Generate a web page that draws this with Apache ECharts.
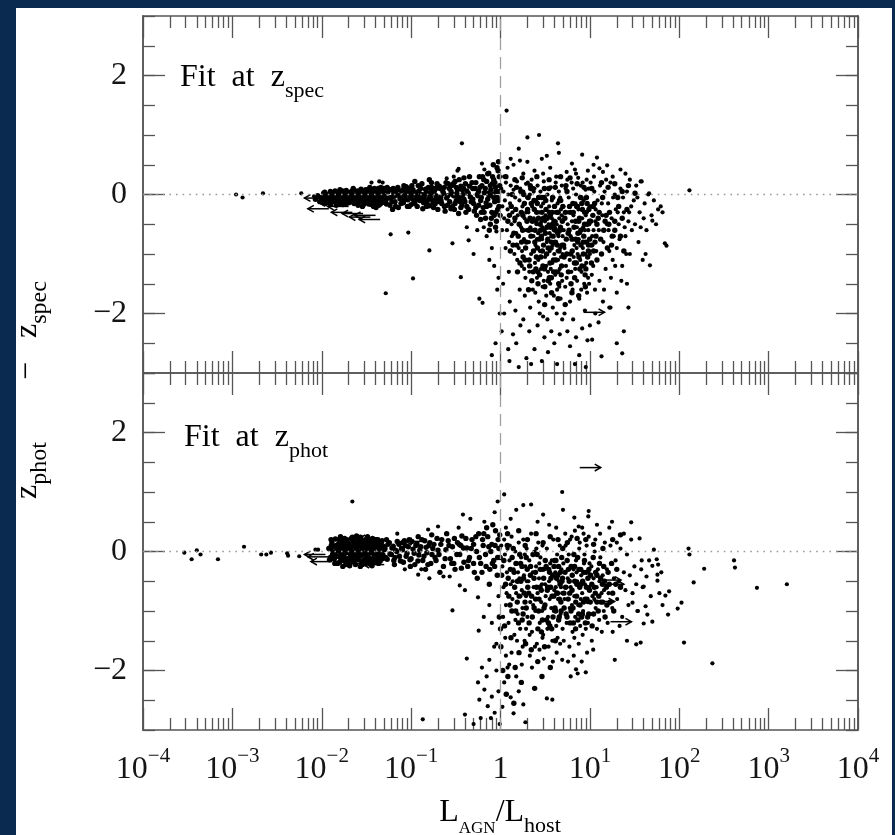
<!DOCTYPE html>
<html><head><meta charset="utf-8">
<script src="https://cdn.jsdelivr.net/npm/echarts@6/dist/echarts.min.js"></script>
<style>html,body{margin:0;padding:0;background:#0a2a50}#c{width:895px;height:835px}</style>
</head><body><div id="c"></div>
<script>
// ---------- tick labels ----------
const yTickLabels = [-2, 0, 2];
const xRange = [1e-4, 1e4];
const yRange = [-3, 3];

// ---------- upper panel (fit at z_spec) : [L_AGN/L_host, z_phot - z_spec] ----------
const upperEdge = [[.0011,0],[.0013,-.05],[.0022,.02],[.0059,.02],[.0082,-.03]];
const upperBand = [
[.0085,-.08],[.009,-.02],[.0095,-.12],[.01,-.05],[.0105,.02],[.011,-.15],[.0115,-.08],[.012,-.03],[.0125,.05],[.013,-.12],[.0135,-.06],[.014,0],[.0145,-.18],[.015,-.1],[.0155,.04],[.016,-.04],[.0165,-.13],[.017,.06],[.0175,-.08],[.018,-.01],[.0185,-.16],[.019,.03],[.0195,-.09],[.02,-.05],[.0105,-.1],[.0125,-.17],[.014,-.09],[.016,.08],[.0118,0],[.0132,.03],[.0148,-.04],[.0162,-.1],[.0178,.02],[.0192,-.13],[.0155,-.16],[.0112,-.04],[.0098,-.06],[.0172,-.05],[.0188,.07],[.0128,-.08],
[.021,-.1],[.022,0],[.023,-.15],[.024,-.04],[.025,.06],[.026,-.12],[.027,-.07],[.028,.02],[.029,-.18],[.03,-.03],[.031,.08],[.032,-.11],[.033,-.05],[.034,.03],[.035,-.14],[.036,-.08],[.037,0],[.038,-.2],[.039,-.06],[.04,.05],[.041,-.12],[.042,-.02],[.043,.1],[.044,-.09],[.045,-.16],[.046,.02],[.047,-.05],[.048,-.13],[.049,.07],[.05,-.03],[.0215,.05],[.0235,-.08],[.0255,-.18],[.0275,.09],[.0295,-.1],[.0315,0],[.0335,-.16],[.0355,.05],[.0375,-.1],[.0395,.02],[.0415,-.07],[.0435,-.18],[.0455,.06],[.0475,-.1],[.0225,-.06],[.0265,.03],[.0305,-.08],[.0345,-.02],[.0385,-.13],[.0425,.04],
[.052,-.1],[.055,.04],[.058,-.18],[.06,-.05],[.063,.1],[.066,-.12],[.069,0],[.072,-.22],[.075,-.07],[.078,.06],[.082,-.14],[.085,-.02],[.088,.13],[.092,-.09],[.095,-.2],[.098,.02],[.1,-.06],[.105,.08],[.11,-.15],[.115,-.03],[.12,.15],[.125,-.1],[.13,0],[.135,-.24],[.14,-.06],[.145,.09],[.15,-.13],[.155,.02],[.16,-.19],[.165,-.05],[.17,.12],[.175,-.1],[.18,.03],[.185,-.16],[.19,-.02],[.195,.18],[.2,-.08],[.054,.12],[.062,-.25],[.07,.08],[.08,-.04],[.09,.05],[.1,-.17],[.108,-.01],[.118,-.08],[.128,.1],[.138,-.14],[.148,.04],[.158,-.08],[.168,.06],[.178,-.22],[.188,.1],[.198,-.12],[.065,-.03],[.083,.15],
[.21,.1],[.22,-.15],[.23,.02],[.24,-.28],[.25,-.06],[.26,.18],[.27,-.12],[.28,.05],[.29,-.2],[.3,-.02],[.31,.22],[.32,-.1],[.33,.08],[.34,-.32],[.35,-.05],[.36,.14],[.37,-.18],[.38,0],[.39,.28],[.4,-.12],[.42,.06],[.44,-.25],[.46,-.04],[.48,.2],[.5,-.15],[.52,.1],[.54,-.35],[.56,-.02],[.58,.3],[.6,-.1],[.62,.15],[.64,-.22],[.66,.03],[.68,-.4],[.7,.22],[.72,-.08],[.74,.36],[.76,-.18],[.78,.08],[.8,-.3],[.82,0],[.84,.25],[.86,-.12],[.88,.12],[.9,-.45],[.92,-.05],[.94,.4],[.96,-.2],[.98,.15],[.215,-.04],[.235,.12],[.255,-.18],[.285,.15],[.305,-.25],[.325,.02],[.355,-.12],[.385,.1],[.41,-.3],[.45,.14],[.49,-.08],[.53,-.22],[.57,.05],[.61,-.3],[.65,.25],[.69,-.14],[.73,.02],[.77,-.5],[.81,.18],[.85,-.35],[.89,.05],[.93,-.25],[.97,.3]
];
const upperBandExtra = [
[.0102,-.13],[.0108,.04],[.0114,-.07],[.0121,-.14],[.0127,0],[.0134,-.1],[.0141,.06],[.0147,-.02],[.0153,-.11],[.0159,.01],[.0166,-.07],[.0173,-.17],[.0181,.05],[.0187,-.06],[.0194,0],[.0201,-.14],[.0208,.03],[.0218,-.12],[.0228,.07],[.0238,-.02],[.0248,-.14],[.0258,0],[.0268,-.1],[.0278,-.03],[.0288,.05],[.0298,-.15],[.0308,.03],[.0318,-.06],[.0328,.08],[.0338,-.12],[.0348,0],[.0358,-.17],[.0368,.06],[.0378,-.05],[.0388,.1],[.0398,-.15],[.0408,-.02],[.0418,.08],[.0428,-.1],[.0438,0],[.0448,-.05],[.0458,.12],[.0468,-.14],[.0478,.03],[.0488,-.08],[.0498,.1],[.0225,.1],[.0285,-.2],[.0345,.12],[.0405,-.22],
[.051,.07],[.053,-.16],[.056,-.06],[.059,.08],[.061,-.12],[.064,.02],[.067,-.2],[.071,.12],[.074,-.02],[.077,-.15],[.081,.08],[.084,-.09],[.087,0],[.091,-.2],[.094,.1],[.097,-.05],[.102,.15],[.107,-.1],[.112,.03],[.117,-.2],[.122,.06],[.127,-.05],[.132,.18],[.137,-.12],[.143,0],[.149,-.2],[.156,.12],[.162,-.02],[.169,.2],[.176,-.14],[.183,.07],[.191,-.06],[.199,-.25],[.207,.14],[.216,-.1],[.226,.06],[.236,-.2],[.246,.2],[.257,-.02],[.268,.1],[.279,-.24],[.29,0],[.297,.18],[.11,.22],[.16,.25],
[.31,-.15],[.32,.12],[.335,-.05],[.345,.25],[.36,-.22],[.375,.08],[.39,-.08],[.405,.18],[.42,-.2],[.435,.02],[.45,.3],[.47,-.12],[.49,.1],[.51,-.28],[.53,.2],[.55,0],[.57,-.18],[.59,.12],[.61,-.05],[.63,.3],[.655,-.3],[.675,.1],[.7,-.2],[.72,.35],[.745,-.02],[.77,.15],[.79,-.4],[.815,.3],[.84,-.05],[.865,.2],[.89,-.3],[.915,.45],[.94,-.1],[.965,.05],[.99,-.35],[.6,-.42],[.75,-.6],[.88,-.55],[.95,.55],[.83,.5]
];
const upperSparse = [
[.036,.2],[.044,.22],[.048,.2],[.33,.4],[.34,.43],[.62,.52],[.66,.42],[.37,.86],[.3,.3],[.25,.27],
[.052,-1.66],[.059,-.67],[.093,-.64],[.105,-1.41],[.16,-.94],[.36,-1.39],[.29,-.82],[.5,-1.0],[.44,-.77],[.63,-1.82],[.58,-1.75],[.42,-.55],[.7,-.7],[.8,-.9],[.85,-1.2],[.9,-.62],[.95,-1.4],[.75,-1.1],[.65,-.55],[.55,-.6],[.98,-2.0],[.92,-1.6],[.8,-2.7],[1.26,-2.8],[.88,-2.5]
];
const upperCloud = [
[1.17,1.41],[1.3,.6],[1.6,.77],[1.65,.57],[2.0,.96],[2.7,1.0],[3.3,.65],[4.4,.86],[4.5,.7],[8.2,.67],[6.3,.52],[15.6,.49],[12.8,.44],[37,.22],[1.2,.45],[1.4,.5],[2.0,.55],[2.4,.4],[2.9,.6],[3.6,.45],[5.5,.38],[6.8,.42],[9.5,.4],[11,.5],[12,.62],[14,.38],[18,.3],[22,.42],[25,.35],[28,.25],[1.8,.35],[3.0,.35],[4.2,.3],[1.1,.3],[7.0,.35],
[1.02,.1],[1.05,-.2],[1.08,.05],[1.1,-.4],[1.12,-.1],[1.15,.2],[1.18,-.6],[1.2,-.25],[1.22,0],[1.25,-.8],[1.28,-.15],[1.3,.15],[1.33,-.5],[1.36,-.3],[1.4,.08],[1.43,-1.0],[1.46,-.05],[1.5,-.65],[1.53,.22],[1.56,-.35],[1.6,-.9],[1.63,-.1],[1.66,.1],[1.7,-.55],[1.73,-1.2],[1.76,-.2],[1.8,.05],[1.83,-.75],[1.86,-.4],[1.9,-1.4],[1.93,.18],[1.96,-.6],[1.99,-.05],[1.04,-.6],[1.14,-.9],[1.24,-1.3],[1.34,-.7],[1.44,-.45],[1.54,-1.1],[1.64,-1.6],[1.74,-.95],[1.84,-1.25],[1.94,-.3],[1.07,-1.5],[1.27,-1.8],[1.47,-1.95],[1.67,-2.2],[1.87,-1.7],
[1.03,-2.3],[1.1,-2.0],[1.22,-2.6],[1.38,-2.35],[1.5,-2.5],[1.6,-2.9],[1.8,-2.1],[1.95,-2.75],
[2.02,.2],[2.05,-.3],[2.08,-.8],[2.1,-1.3],[2.13,0],[2.16,-.55],[2.2,-1.0],[2.23,.25],[2.26,-.2],[2.3,-1.6],[2.33,-.7],[2.36,-.4],[2.4,.1],[2.43,-1.15],[2.46,-.85],[2.5,-.1],[2.53,-.5],[2.56,-1.4],[2.6,.15],[2.64,-.65],[2.68,-1.8],[2.72,-.3],[2.76,-.95],[2.8,.05],[2.84,-1.25],[2.88,-.45],[2.92,-.75],[2.96,-1.55],[3.0,-.15],[3.05,.22],[3.1,-.6],[3.15,-1.05],[3.2,-.35],[3.25,-1.7],[3.3,-.8],[3.35,0],[3.4,-1.3],[3.45,-.5],[3.5,-.2],[3.55,-.95],[3.6,-1.5],[3.65,.12],[3.7,-.7],[3.75,-.4],[3.8,-1.15],[3.85,-1.9],[3.9,-.05],[3.95,-.6],[4.0,-1.0],[4.05,-.3],[4.1,-1.35],[4.15,.2],[4.2,-.8],[4.25,-.5],[4.3,-1.6],[4.35,-.15],[4.4,-1.1],[4.45,-.7],[4.5,.05],[4.55,-.4],[4.6,-1.25],[4.65,-.9],[4.7,-1.75],[4.75,-.25],[4.8,-.6],[4.85,.15],[4.9,-1.45],[4.95,-1.0],[2.15,-1.9],[2.45,-1.65],[2.75,-2.0],[3.05,-1.45],[3.35,-2.1],[3.65,-1.25],[3.95,-1.7],[4.25,-2.0],[4.55,-1.55],[4.85,-.35],[2.25,-.6],[2.55,-.75],[2.85,-.2],[3.15,-.45],[3.45,-.9],[3.75,-.1],[4.05,-.55],[4.35,-.95],[4.65,-.05],[4.95,-.7],[2.35,.05],[2.65,-1.1],[2.95,-.55],[3.25,-1.2],[3.55,-.65],[3.85,-.85],[4.15,-.45],[4.45,-1.3],[4.75,-1.05],
[2.1,-2.3],[2.4,-2.6],[2.6,-2.2],[2.9,-2.8],[3.1,-2.4],[3.4,-2.65],[3.7,-2.3],[4.0,-2.5],[4.3,-2.85],[4.6,-2.35],[4.9,-2.1],[2.2,-2.85],[3.0,-2.05],
[5.05,-.2],[5.2,-.9],[5.35,.1],[5.5,-1.4],[5.65,-.5],[5.8,-.05],[5.95,-1.1],[6.1,-.7],[6.25,.2],[6.4,-1.6],[6.55,-.35],[6.7,-.85],[6.85,-1.25],[7.0,0],[7.15,-.55],[7.3,-1.0],[7.45,-.25],[7.6,-1.75],[7.75,-.65],[7.9,.15],[8.05,-1.3],[8.2,-.4],[8.35,-.9],[8.5,-.1],[8.65,-1.5],[8.8,-.6],[8.95,.08],[9.1,-1.15],[9.25,-.3],[9.4,-.8],[9.55,-1.4],[9.7,.1],[9.85,-.5],[10,-1.0],[10.3,-.2],[10.6,-.7],[10.9,-1.2],[11.2,.05],[11.5,-.45],[11.8,-.95],[5.1,-.6],[5.4,-1.2],[5.7,-.3],[6.0,-1.8],[6.3,-.45],[6.6,-1.05],[6.9,-.15],[7.2,-1.45],[7.5,-.75],[7.8,-1.1],[8.1,-.05],[8.4,-.55],[8.7,-1.2],[9.0,-.35],[9.3,-1.65],[9.6,-.6],[9.9,-.2],[10.5,-1.35],[11.0,-.6],[11.6,-.25],[5.3,-1.55],[6.2,-1.3],[7.1,-.9],[8.0,-1.6],[8.9,-1.0],[9.8,-1.5],[10.7,-.85],[11.4,-1.6],[5.6,.25],[6.5,.1],[7.4,.28],[8.3,.2],[9.2,.25],[10.2,.2],[11.1,.3],
[5.2,-2.0],[5.6,-2.3],[6.0,-2.55],[6.5,-2.1],[7.0,-2.4],[7.6,-2.7],[8.2,-2.25],[8.8,-1.95],[9.4,-2.45],[10,-2.2],[10.6,-2.44],[11.5,-2.0],[6.8,-2.85],[9.0,-2.9],
[12.2,-.1],[12.6,-.6],[13,.15],[13.4,-1.0],[13.8,-.35],[14.2,-.8],[14.6,.05],[15,-1.25],[15.5,-.5],[16,-.15],[16.5,-.95],[17,.2],[17.5,-.4],[18,-1.1],[18.5,-.7],[19,0],[19.5,-.25],[20,-.9],[21,-.5],[22,.1],[23,-1.2],[24,-.3],[25,-.7],[26,.05],[27,-.45],[28,-1.0],[29,-.2],[12.8,-1.45],[13.6,-.15],[14.4,-1.6],[15.2,.25],[16.2,-.6],[17.2,-1.4],[18.2,-.05],[19.2,-1.2],[20.5,-.3],[21.5,-.75],[22.5,-1.45],[23.5,-.05],[24.5,-.55],[25.5,-1.0],[27.5,-.3],[29.5,-.6],[14,-1.8],[17,-1.9],[20,-1.65],[26,-1.5],
[12.5,-2.15],[16.5,-1.9],[20,-2.5],[23,-2.67],[13.5,-2.72],[24,-2.3],[27,-1.9],
[31,-.1],[32,-.5],[33,.15],[35,-.8],[36,-.3],[38,.22],[39,-1.1],[41,-.15],[43,-.6],[45,0],[47,-1.19],[49,-.35],[52,-.1],[55,-.5],[58,-.25],[34,-.05],[40,-.4],[46,.02],[50,-.44],[42,-1.0],[37,-.55],
[72,-.86],[69,-.82],[130,.07],[65,-.3],[62,-.2]
];
const upperCloudExtra = [
[1.21,-.45],[1.29,-.95],[1.35,0],[1.41,-.65],[1.48,-.25],[1.55,-1.3],[1.62,-.5],[1.69,.05],[1.72,-.8],[1.79,-1.05],[1.85,-.15],[1.91,-.9],[1.98,-.45],[2.04,-.05],[2.09,-1.1],[2.14,-.4],[2.19,-.7],[2.24,-1.45],[2.29,.1],[2.34,-.95],[2.39,-.25],[2.44,-.6],[2.49,-1.25],[2.54,-.3],[2.59,-.9],[2.63,-1.5],[2.67,-.05],[2.71,-.75],[2.78,-.5],[2.83,-1.05],[2.87,-.7],[2.91,-.3],[2.98,-1.2],[3.03,-.85],[3.08,-.05],[3.13,-1.55],[3.18,-.65],[3.23,-.25],[3.28,-1.0],[3.33,-.4],[3.38,-.75],[3.43,-1.45],[3.48,.1],[3.53,-.3],[3.58,-1.15],[3.63,-.55],[3.68,-.9],[3.73,-1.65],[3.78,-.3],[3.83,-.05],[3.88,-.7],[3.93,-1.3],[3.98,-.45],[4.08,-.8],[4.18,-1.1],[4.28,-.3],[4.38,-.65],[4.48,-1.5],[4.58,-.1],[4.68,-.55],[4.78,-1.35],[4.88,-.85],[4.98,-.2],[5.15,-1.05],[5.25,-.4],[5.45,-.75],[5.55,.05],[5.75,-1.3],[5.85,-.6],[6.05,-.3],[6.15,-1.5],[6.35,-.95],[6.45,-.15],[6.65,-.55],[6.75,-1.4],[6.95,-.75],[7.05,-1.15],[7.25,-.2],[7.35,-.65],[7.55,-1.05],[7.65,-.4],[7.85,-.05],[7.95,-.85],[8.15,-1.2],[8.25,-.25],[8.45,-1.0],[8.55,-.7],[8.75,-.3],[8.85,-1.35],[9.05,-.8],[9.15,-.05],[9.35,-.5],[9.45,-1.05],[9.65,-.85],[9.75,-.25],[9.95,-.75],[10.2,-.45],[10.4,-1.15],[10.8,-.35],[11.0,-.95],[11.3,-.15],[11.7,-.7],[12.0,-1.1],[12.4,-.4],[13.2,-.75],[13.9,-.05],[14.8,-.45],[15.7,-.9],[16.6,-.3],[17.8,-.7],[19.0,-.45],[20.5,-.05],[22,-.7],[24,-.95],[26,-.25],[1.26,-.35],[1.52,-.85],[1.78,-.35],[2.06,-1.6],[2.21,-.15],[2.62,-1.3],[3.12,-1.85],[3.71,-1.4],[4.42,-1.75],[5.3,-1.85],[6.3,-1.65],[7.5,-1.7],[8.9,-1.55],
[1.15,.3],[1.45,.25],[1.75,.28],[2.15,.15],[2.55,.3],[3.1,.1],[3.5,.25],[4.1,.12],[4.7,.3],[5.4,.15],[6.0,.28],[7.2,.18],[8.6,.12],[10.5,.1],[13.5,.2],[16,.12],[19,.18],[23,.05],[27,.15],[32,.02],
[1.32,-.2],[1.38,-.85],[1.45,-.4],[1.51,.12],[1.58,-.7],[1.65,-1.15],[1.71,-.3],[1.77,-.6],[1.82,0],[1.88,-1.1],[1.95,-.8],[2.01,-.25],[2.07,-.6],[2.12,-1.2],[2.18,.1],[2.27,-.45],[2.32,-1.3],[2.37,-.1],[2.42,-.8],[2.48,-.45],[2.52,-1.05],[2.58,-.15],[2.66,-.4],[2.74,-1.35],[2.81,-.6],[2.89,-.05],[2.94,-.95],[3.02,-.4],[3.11,-1.25],[3.21,-.1],[3.31,-.55],[3.41,-.9],[3.52,-1.4],[3.61,-.35],[3.72,-.8],[3.82,-.5],[3.92,-1.1],[4.02,-.2],[4.12,-.6],[4.22,-1.3],[4.32,-.85],[4.42,-.3],[4.52,-.95],[4.62,-.6],[4.72,-.1],[4.82,-1.2],[4.92,-.45],[5.08,-.85],[5.32,-.3],[5.52,-1.0],[5.72,-.65],[5.92,-.2],[6.12,-1.0],[6.32,-.75],[6.52,-.3],[6.72,-1.15],[6.92,-.45],[7.12,-.2],[7.32,-.8],[7.52,-.45],[7.72,-1.25],[7.92,-.6],[8.12,-.15],[8.42,-.8],[8.72,-.5],[9.02,-1.25],[9.32,-.15],[9.62,-.95],[9.92,-.45],[10.4,-.85],[10.9,-.2],[11.4,-.8],[12,-.5],[12.7,-.3],[13.5,-1.0],[14.3,-.6],[15.2,-.35],[16.3,-.5],[17.5,-.85],[19,-.6],[21,-.2],[23,-.4]
];
const upperArrowsLeft = [[.011,-.06],[.012,-.24],[.016,-.14],[.022,-.3],[.029,-.32],[.035,-.38],[.045,-.42],[.04,-.35],[.02,-.2]];
const upperArrowsRight = [[8.5,-1.98]];

// ---------- lower panel (fit at z_phot) ----------
const lowerEdge = [[.00029,-.02],[.00035,-.13],[.0004,.02],[.00044,-.05],[.00069,-.13],[.00135,.08],[.0021,-.05],[.0024,-.05],[.0027,-.02],[.0041,-.03],[.0042,-.07],[.0056,-.08],[.0091,.03],[.013,.02],[.022,.84]];
const lowerBlob = [
[.012,.05],[.0125,-.1],[.013,.15],[.0135,-.02],[.014,-.2],[.0145,.1],[.015,-.08],[.0155,.2],[.016,0],[.0165,-.15],[.017,.08],[.0175,-.05],[.018,.22],[.0185,-.22],[.019,.03],[.0195,-.12],[.02,.14],[.021,-.04],[.022,.24],[.023,-.18],[.024,.06],[.025,-.09],[.026,.17],[.027,-.25],[.028,0],[.029,.11],[.03,-.14],[.031,.2],[.032,-.06],[.033,.04],[.034,-.2],[.035,.13],[.036,-.02],[.037,.22],[.038,-.11],[.039,.07],[.04,-.18],[.042,.1],[.044,-.05],[.046,.16],[.048,-.12],[.05,.03],[.0128,.1],[.0138,-.13],[.0148,.02],[.0158,-.18],[.0168,.17],[.0178,-.1],[.0188,.12],[.0198,-.02],[.0215,.08],[.0235,-.13],[.0255,.2],[.0275,-.07],[.0295,-.2],[.0315,.07],[.0335,-.1],[.0355,.18],[.0375,-.03],[.0395,.15],[.0415,-.14],[.0435,.05],[.0455,-.08],[.0475,.1],[.0162,.25],[.0205,-.24],[.0245,.26],[.0285,-.22],[.0325,.25],[.0365,-.24],[.0405,.2],[.0142,.21],[.0172,-.25],[.0222,-.15],[.0262,-.02],[.0302,.13],[.0342,-.16],[.0382,0],[.0132,-.05],[.0152,.12],[.0182,-.03],[.0212,.02],[.0232,.1],[.0272,.09],[.0312,-.1],[.0352,.04],[.0392,-.08],[.0432,-.2],
[.0122,-.14],[.0127,.2],[.0133,.08],[.0139,-.06],[.0144,0],[.0151,-.2],[.0156,.06],[.0161,-.1],[.0167,.12],[.0171,0],[.0176,.18],[.0181,-.15],[.0186,.05],[.0191,.2],[.0197,-.18],[.0203,.07],[.0209,-.1],[.0214,.22],[.0219,-.06],[.0226,.16],[.0231,-.01],[.0238,-.22],[.0243,.13],[.0251,.02],[.0258,-.14],[.0264,.1],[.0271,.24],[.0279,-.16],[.0287,.05],[.0293,.18],[.0301,-.04],[.0309,-.2],[.0316,.14],[.0323,0],[.0331,.2],[.0338,-.12],[.0346,.08],[.0354,-.22],[.0361,.15],[.0369,.03],[.0377,-.15],[.0386,.2],[.0394,-.05],[.0403,.1],[.0412,-.1],[.0421,.2],[.0431,-.04],[.0441,.12],[.0451,-.16],[.0462,0],[.0473,.18],[.0484,-.06],[.0495,.08],[.0165,-.05],[.0195,.1],[.0245,-.07],[.0285,.14],[.0335,-.02],[.0385,.11],[.0445,.06]
];
const lowerBand = [
[.052,-.1],[.055,.12],[.058,-.04],[.061,.06],[.064,-.15],[.067,.02],[.07,.17],[.074,-.08],[.078,.05],[.082,-.18],[.086,.1],[.09,-.03],[.095,.2],[.1,-.12],[.105,.04],[.11,-.22],[.116,.13],[.122,-.06],[.128,.08],[.135,-.15],[.142,.18],[.15,-.02],[.158,.1],[.166,-.2],[.175,.05],[.185,-.1],[.195,.22],[.205,-.05],[.215,.12],[.23,-.25],[.245,.03],[.26,.18],[.275,-.12],[.29,.08],[.31,-.3],[.33,.15],[.35,-.05],[.37,.26],[.39,-.18],[.42,.06],[.45,-.1],[.48,.2],[.51,-.35],[.54,0],[.57,.3],[.6,-.2],[.64,.1],[.68,-.05],[.72,.25],[.76,-.3],[.8,.12],[.84,-.15],[.88,.35],[.92,-.4],[.96,.05],[.053,.2],[.065,-.22],[.08,.15],[.098,-.25],[.12,.25],[.145,-.3],[.17,.28],[.21,-.35],[.25,.3],[.3,-.2],[.36,.1],[.43,-.25],[.5,.12],[.62,-.35],[.7,.4],[.78,0],[.86,-.25],[.94,.2],[.99,-.1],[.75,-.55],[.82,.45],[.55,-.45],[.65,.3],
[.051,.05],[.054,-.13],[.057,.15],[.06,-.05],[.063,.09],[.066,-.1],[.069,0],[.073,.12],[.076,-.16],[.08,.03],[.084,.18],[.088,-.08],[.093,.08],[.097,-.14],[.102,.17],[.108,-.03],[.113,.1],[.119,-.16],[.125,.02],[.132,.2],[.139,-.08],[.147,.07],[.154,-.22],[.162,.15],[.171,-.05],[.18,.12],[.19,-.15],[.2,.02],[.22,.2],[.24,-.12],[.265,.1],[.285,-.2],[.305,.22],[.325,-.05],[.345,.12],[.365,-.28],[.385,.06],[.41,.22],[.44,-.15],[.47,.05],[.5,-.2],[.53,.25],[.58,-.1],[.63,.2],[.69,-.25],[.74,.08],[.81,-.2],[.87,.1],[.93,-.1],[.98,.28]
];
const lowerSparse = [
[.07,.3],[.155,.37],[.2,.42],[.34,.4],[.38,.62],[.46,.55],[.66,.5],[.86,.66],[.93,.84],[.0085,.03],
[.12,-.39],[.23,-.42],[.27,-.42],[.35,-.57],[.29,-.99],[.56,-.77],[.57,-1.33],[.42,-1.8],[.16,-.45],[.4,-.65],[.75,-.9],[.8,-1.2],[.9,-1.55],[.65,-1.1],[.95,-.75],[.13,-.3],[.085,-.3],
[.4,-2.74],[.58,-2.49],[.56,-2.2],[.7,-2.1],[.66,-2.32],[.75,-1.82],[.8,-2.44],[.86,-2.71],[1.05,-2.61],[1.4,-2.72],[1.8,-2.57],[3.3,-2.47],[3.8,-2.49],[.135,-2.82],[1.9,-2.87],[.62,-1.95],[.72,-2.6],[.9,-2.0],[.95,-2.35],[1.1,-2.2],[1.2,-1.95],[1.3,-2.45],[1.5,-2.1],[1.6,-2.35],[.5,-2.9],[.6,-2.8],[.98,-2.9],[.85,-1.6],[1.15,-1.75],[.78,-2.8]
];
const lowerCloud = [
[1.02,.1],[1.05,-.25],[1.08,-.6],[1.1,.2],[1.12,-.05],[1.15,-.9],[1.18,-.35],[1.2,.05],[1.23,-1.2],[1.26,-.15],[1.3,-.55],[1.33,.25],[1.36,-.8],[1.4,-.3],[1.43,-1.4],[1.46,0],[1.5,-.7],[1.53,-.2],[1.56,-1.05],[1.6,.15],[1.63,-.45],[1.66,-1.3],[1.7,-.1],[1.73,-.65],[1.76,-.95],[1.8,.2],[1.83,-.4],[1.86,-1.5],[1.9,-.25],[1.93,-.75],[1.96,.05],[2.0,-1.1],[2.05,-.5],[2.1,-.15],[2.15,-.85],[2.2,.3],[2.25,-1.35],[2.3,-.35],[2.35,-.6],[2.4,0],[2.45,-1.0],[2.5,-.25],[2.55,-1.55],[2.6,-.7],[2.65,.15],[2.7,-.45],[2.75,-1.2],[2.8,-.1],[2.85,-.85],[2.9,-.55],[2.95,.1],[3.0,-1.4],[3.1,-.3],[3.2,-.75],[3.3,.05],[3.4,-1.1],[3.5,-.5],[3.6,-.2],[3.7,-.95],[3.8,-1.5],[3.9,.2],[4.0,-.65],[4.1,-.35],[4.2,-1.25],[4.3,-.05],[4.4,-.8],[4.5,-.5],[4.6,.1],[4.7,-1.05],[4.8,-.3],[4.9,-.7],[1.07,-1.1],[1.17,-.7],[1.27,.1],[1.37,-.5],[1.47,-1.15],[1.57,-.35],[1.67,-.75],[1.77,-1.6],[1.87,-.05],[1.97,-.5],[2.12,-1.4],[2.32,-.9],[2.52,.05],[2.72,-.2],[2.92,-1.0],[3.15,-.55],[3.35,-1.3],[3.55,-.8],[3.75,-.15],[3.95,-1.0],[4.15,-.6],[4.35,-1.45],[4.55,-.25],[4.75,-.6],[4.95,-1.3],[1.13,-1.45],[1.33,-1.7],[1.53,-1.5],[1.73,-1.9],[1.93,-1.3],[2.13,-1.75],[2.43,-1.6],[2.73,-1.65],[3.05,-1.8],[3.45,-1.6],[3.85,-1.85],[4.25,-1.7],[4.65,-1.55],[1.25,-1.9],[2.25,-1.95],[2.95,-1.45],
[5.05,-.2],[5.2,-.8],[5.35,.1],[5.5,-1.2],[5.65,-.45],[5.8,-.05],[5.95,-.95],[6.1,-.6],[6.25,.25],[6.4,-1.35],[6.55,-.3],[6.7,-.75],[6.85,-1.1],[7.0,-.15],[7.2,-.5],[7.4,-.9],[7.6,.05],[7.8,-1.25],[8.0,-.4],[8.2,-.7],[8.4,-1.0],[8.6,-.2],[8.8,-.55],[9.0,-1.3],[9.2,.1],[9.4,-.85],[9.6,-.35],[9.8,-.6],[10.1,-1.05],[10.4,-.25],[10.7,-.75],[11,-.45],[11.3,0],[11.6,-.95],[11.9,-.6],[12.3,-.3],[12.7,-1.15],[13.1,-.1],[13.5,-.7],[13.9,-.4],[14.3,-1.0],[14.7,.15],[5.1,-1.5],[5.5,-.6],[5.9,-1.6],[6.3,-.9],[6.7,-1.45],[7.1,-.35],[7.5,-1.55],[7.9,-.8],[8.3,-1.4],[8.7,-.05],[9.1,-.6],[9.5,-1.2],[9.9,-.2],[10.5,-1.5],[11.2,-.8],[12,-1.3],[12.8,-.5],[13.6,-1.35],[14.4,-.65],[5.3,.3],[6.0,.2],[6.8,.35],[7.7,.15],[8.5,.3],[9.7,.25],[11.5,.2],[13,.3],[5.7,-1.85],[6.6,-1.75],[7.3,-2.05],[8.1,-1.85],[9.3,-1.7],[10.9,-1.65],[6.1,-2.1],[9,-2.03],[7,-1.98],[4.9,-1.82],
[15.5,-.3],[16.2,-.7],[17,.1],[17.8,-.95],[18.6,-.45],[19.4,-.15],[20.2,-.8],[21,-.5],[22,.05],[23,-1.1],[24,-.35],[25,-.65],[26,-.05],[27,-.9],[28,-.4],[29,.2],[30,-.7],[31.5,-.25],[33,-.55],[34.5,-1.0],[36,.22],[37.5,-.3],[39,-.6],[40,-1.21],[42,-.92],[43,-.42],[44,-1.06],[46,-.15],[48,-.75],[50,-1.18],[52,.03],[50,-.24],[56,-.13],[58,-.22],[57,-.39],[63,-.35],[57,-.49],[40,-.59],[38,-.15],[15.8,-1.2],[18,-1.35],[21.5,-1.25],[19,-1.82],[30,-.86],[34,-1.0],[33,-1.56],[37,-1.53],[16.5,.4],[17.7,.5],[29,.49],[24,.3],[20,.15],[26,-1.5],
[1.1,.96],[1.5,.7],[1.8,.78],[2.2,.79],[4.9,1.0],[5,.7],[6.7,.57],[9.7,.68],[9.6,.59],[3.5,.45],[2.6,.5],[1.3,.55],[4.2,.4],[7.5,.42],[12,.45],[3.0,.62],[8.2,.4],[1.15,.4],
[70,-.74],[77,-.67],[96,-.96],[106,-.86],[145,-.52],[190,-.29],[127,.05],[130,-.05],[410,-.15],[420,-.27],[740,-.61],[1600,-.55],[75,-1.06],[113,-1.53],[235,-1.88],[60,-.7],[65,-.9]
];
const lowerCloudExtra = [
[1.03,-.4],[1.09,-.15],[1.14,-.55],[1.19,.1],[1.24,-.75],[1.29,-.3],[1.34,-1.0],[1.39,.05],[1.44,-.6],[1.49,-.2],[1.54,-.85],[1.59,-1.2],[1.64,-.05],[1.69,-.5],[1.74,-.25],[1.79,-1.05],[1.84,-.7],[1.89,.1],[1.94,-.95],[1.99,-.3],[2.07,-.7],[2.17,-.25],[2.27,-1.1],[2.37,-.45],[2.47,-.8],[2.57,-.05],[2.67,-1.0],[2.77,-.6],[2.87,-1.35],[2.97,-.3],[3.07,-.95],[3.17,-.15],[3.27,-1.15],[3.37,-.6],[3.47,-.3],[3.57,-1.25],[3.67,-.45],[3.77,-.75],[3.87,-1.1],[3.97,-.25],[4.07,-.95],[4.17,-.15],[4.27,-.7],[4.37,-.4],[4.47,-1.15],[4.57,-.8],[4.67,-.35],[4.77,-1.0],[4.87,-.5],[4.97,.05],[5.12,-.7],[5.27,-.35],[5.42,-1.05],[5.57,-.15],[5.72,-.8],[5.87,-.5],[6.02,-1.2],[6.17,-.25],[6.32,-.65],[6.47,-.95],[6.62,-.05],[6.77,-.5],[6.92,-1.3],[7.1,-.75],[7.3,-.1],[7.5,-1.05],[7.7,-.6],[7.9,-.3],[8.1,-1.1],[8.3,-.5],[8.5,-.85],[8.7,-.15],[8.9,-1.2],[9.1,-.35],[9.3,-.8],[9.5,-.45],[9.7,-1.05],[9.9,-.65],[10.2,-.4],[10.6,-1.25],[10.9,-.1],[11.2,-.6],[11.6,-.35],[12,-.85],[12.4,-1.0],[12.8,-.2],[13.3,-.85],[13.8,-.55],[14.3,-.25],[14.8,-1.1],[15.3,-.6],[16,-.35],[16.8,-.85],[17.5,-.2],[18.5,-1.0],[19.5,-.55],[1.11,-1.25],[1.31,-1.45],[1.61,-1.7],[1.91,-1.55],[2.21,-1.65],[2.61,-1.85],[3.11,-1.6],[3.61,-1.95],[4.11,-1.5],[1.21,-2.1],[1.71,-2.2],[2.41,-2.3],[1.46,-1.95],[2.91,-2.1],[1.01,-1.6],[1.06,-2.0],[1.16,-2.4],[1.41,-2.55],[1.0,-1.3],[.97,-1.1],
[1.2,.3],[1.6,.35],[2.0,.2],[2.5,.3],[3.0,.15],[3.6,.25],[4.4,.2],[5.6,.15],[7.2,.22],[9.0,.2],[11,.12],[14,.05],[18,.2],[22,.28],
[1.22,-.45],[1.28,-.9],[1.35,-.1],[1.42,-.35],[1.48,-1.0],[1.55,-.5],[1.62,-.75],[1.68,-.2],[1.75,-1.15],[1.81,-.45],[1.88,-.85],[1.94,-.1],[2.02,-.6],[2.09,-1.2],[2.16,-.4],[2.23,-.75],[2.31,-.05],[2.38,-.95],[2.46,-.35],[2.53,-.6],[2.62,-1.3],[2.7,-.8],[2.78,-.3],[2.86,-.65],[2.94,-1.15],[3.04,-.45],[3.14,-.9],[3.24,-.25],[3.34,-.65],[3.44,-1.2],[3.54,-.35],[3.64,-.6],[3.74,-1.3],[3.84,-.4],[3.94,-.75],[4.04,-.15],[4.14,-1.0],[4.24,-.45],[4.34,-.7],[4.44,-.25],[4.54,-1.1],[4.64,-.55],[4.74,-.85],[4.84,-.1],[4.94,-.45],[5.15,-.95],[5.35,-.6],[5.55,-1.1],[5.75,-.3],[5.95,-.7],[6.15,-1.0],[6.35,-.4],[6.55,-1.2],[6.75,-.25],[6.95,-.85],[7.15,-.55],[7.35,-1.15],[7.55,-.3],[7.75,-.9],[7.95,-.55],[8.25,-1.05],[8.55,-.35],[8.85,-.8],[9.15,-.6],[9.45,-1.1],[9.75,-.3],[10.1,-.85],[10.5,-.55],[11,-1.05],[11.5,-.7],[12,-.4],[12.6,-.75],[13.2,-.45],[13.9,-.85],[14.6,-.5],[15.5,-.9],[16.5,-.55],[18,-.7],[20,-.3],[22,-.6]
];
const lowerArrowsLeft = [[.011,-.05],[.013,-.17],[.012,-.09],[.045,.22],[.038,.2],[.15,.17],[.05,-.22],[.032,-.2]];
const lowerArrowsRight = [[7.7,1.41],[13,-.48],[11,-.84],[17,-1.18],[14,-.55]];

// ---------- rendering ----------
const FONT = 'Liberation Serif';
const TXT = '#151515';
const AX = '#555';
const chart = echarts.init(document.getElementById('c'), null, {renderer: 'canvas'});

function xAxisDef(grid, pos, labels) {
  return {
    type: 'log', logBase: 10, gridIndex: grid, position: pos, min: xRange[0], max: xRange[1],
    axisLine: {onZero: false, lineStyle: {color: AX, width: 1.5}},
    axisTick: {show: true, inside: true, length: 22, lineStyle: {color: AX, width: 1.3}},
    minorTick: {show: true, splitNumber: 9, length: 12, lineStyle: {color: AX, width: 1.3}},
    splitLine: {show: false}, minorSplitLine: {show: false},
    axisLabel: labels ? {
      show: true, margin: 16,
      formatter: v => {
        const e = Math.round(Math.log10(v));
        if (e === 0) return '{b|1}';
        return '{b|10}{sup|' + (e < 0 ? '−' : '') + Math.abs(e) + '}';
      },
      rich: {
        b: {fontFamily: FONT, fontSize: 32, lineHeight: 40, verticalAlign: 'bottom', color: TXT},
        sup: {fontFamily: FONT, fontSize: 21, lineHeight: 22, verticalAlign: 'top', color: TXT}
      }
    } : {show: false}
  };
}
function yAxisDef(grid, pos, kind) {
  const base = {
    type: 'value', gridIndex: grid, position: pos, min: yRange[0], max: yRange[1],
    axisLine: {show: true, onZero: false, lineStyle: {color: AX, width: 1.5}},
    splitLine: {show: false}
  };
  if (kind === 'short') {
    base.interval = 0.5;
    base.axisTick = {show: true, inside: true, length: 12, lineStyle: {color: AX, width: 1.3}};
    base.axisLabel = {show: false};
  } else {
    base.interval = 1;
    base.axisTick = {show: true, inside: true, length: 22, customValues: yTickLabels, lineStyle: {color: AX, width: 1.3}};
    base.axisLabel = pos === 'left' ? {
      show: true, customValues: yTickLabels, margin: 16, fontFamily: FONT, fontSize: 32, color: TXT,
      formatter: v => (v < 0 ? '−' + Math.abs(v) : String(v))
    } : {show: false};
  }
  return base;
}
function arrowSeries(data, xi, yi, dir) {
  return {
    type: 'custom', xAxisIndex: xi, yAxisIndex: yi, data: data, silent: true, z: 4,
    renderItem: function (params, api) {
      const p = api.coord([api.value(0), api.value(1)]);
      const ex = p[0] + 21 * dir, ey = p[1];
      const h = 6 * dir;
      return {type: 'group', children: [
        {type: 'line', shape: {x1: p[0], y1: ey, x2: ex, y2: ey}, style: {stroke: '#000', lineWidth: 1.5}},
        {type: 'polyline', shape: {points: [[ex - h, ey - 3.4], [ex, ey], [ex - h, ey + 3.4]]}, style: {stroke: '#000', fill: null, lineWidth: 1.5}}
      ]};
    }
  };
}
function scatter(data, xi, yi, size) {
  return {type: 'scatter', xAxisIndex: xi, yAxisIndex: yi, data: data, symbol: 'circle', symbolSize: size,
    itemStyle: {color: '#000', opacity: 1}, silent: true, z: 3, large: false};
}
function refLines(xi, yi) {
  return {type: 'line', xAxisIndex: xi, yAxisIndex: yi, data: [], silent: true, z: 6,
    markLine: {silent: true, symbol: 'none', animation: false, label: {show: false},
      data: [
        {yAxis: 0, lineStyle: {type: [1.6, 5], color: '#9a9a9a', width: 1.3}},
        {xAxis: 1, lineStyle: {type: [12, 7], color: '#a0a0a0', width: 1.3}}
      ]}};
}

// dense cores are drawn with larger dots so that they read as solid, like the source
const upperDense = [].concat(upperBand, upperBandExtra, upperCloudExtra);
const upperLoose = [].concat(upperEdge, upperSparse, upperCloud);
const lowerDense = [].concat(lowerBlob, lowerBand, lowerCloudExtra);
const lowerLoose = [].concat(lowerEdge, lowerSparse, lowerCloud);

const richTxt = {
  m: {fontFamily: FONT, fontSize: 32, lineHeight: 40, verticalAlign: 'top', color: TXT},
  s: {fontFamily: FONT, fontSize: 22, lineHeight: 16, verticalAlign: 'bottom', color: TXT},
  s2: {fontFamily: FONT, fontSize: 17, lineHeight: 14, verticalAlign: 'bottom', color: TXT}
};
const richY = {
  m: {fontFamily: FONT, fontSize: 32, lineHeight: 40, verticalAlign: 'top', color: TXT},
  s: {fontFamily: FONT, fontSize: 24, lineHeight: 16, verticalAlign: 'bottom', color: TXT},
  g1: {width: 62, fontSize: 10}, g2: {width: 24, fontSize: 10}
};

chart.setOption({
  animation: false,
  backgroundColor: '#0a2a50',
  grid: [
    {left: 143, top: 16, width: 715, height: 357},
    {left: 143, top: 373, width: 715, height: 357}
  ],
  xAxis: [xAxisDef(0, 'bottom', false), xAxisDef(0, 'top', false), xAxisDef(1, 'top', false), xAxisDef(1, 'bottom', true)],
  yAxis: [yAxisDef(0, 'left', 'long'), yAxisDef(0, 'left', 'short'), yAxisDef(0, 'right', 'long'), yAxisDef(0, 'right', 'short'),
          yAxisDef(1, 'left', 'long'), yAxisDef(1, 'left', 'short'), yAxisDef(1, 'right', 'long'), yAxisDef(1, 'right', 'short')],
  graphic: [
    {type: 'rect', z: -100, silent: true, shape: {x: 16, y: 8, width: 876, height: 835}, style: {fill: '#ffffff'}},
    {type: 'text', z: 100, x: 180, y: 62, style: {text: '{m|Fit  at  z}{s|spec}', rich: richTxt, align: 'left', verticalAlign: 'top'}},
    {type: 'text', z: 100, x: 184, y: 422, style: {text: '{m|Fit  at  z}{s|phot}', rich: richTxt, align: 'left', verticalAlign: 'top'}},
    {type: 'text', z: 100, x: 500, y: 797, style: {text: '{m|L}{s2|AGN}{m|/L}{s|host}', rich: richTxt, align: 'center', verticalAlign: 'top'}},
    {type: 'text', z: 100, x: 32, y: 390, rotation: Math.PI / 2,
      style: {text: '{m|z}{s|phot}{g1| }{m|−}{g2| }{m|z}{s|spec}', rich: richY, align: 'center', verticalAlign: 'middle'}}
  ],
  series: [
    scatter(upperDense, 0, 0, 5.4),
    scatter(upperLoose, 0, 0, 4.2),
    arrowSeries(upperArrowsLeft, 0, 0, -1),
    arrowSeries(upperArrowsRight, 0, 0, 1),
    refLines(0, 0),
    scatter(lowerDense, 3, 4, 5.4),
    scatter(lowerLoose, 3, 4, 4.2),
    arrowSeries(lowerArrowsLeft, 3, 4, -1),
    arrowSeries(lowerArrowsRight, 3, 4, 1),
    refLines(3, 4)
  ]
});
</script></body></html>
